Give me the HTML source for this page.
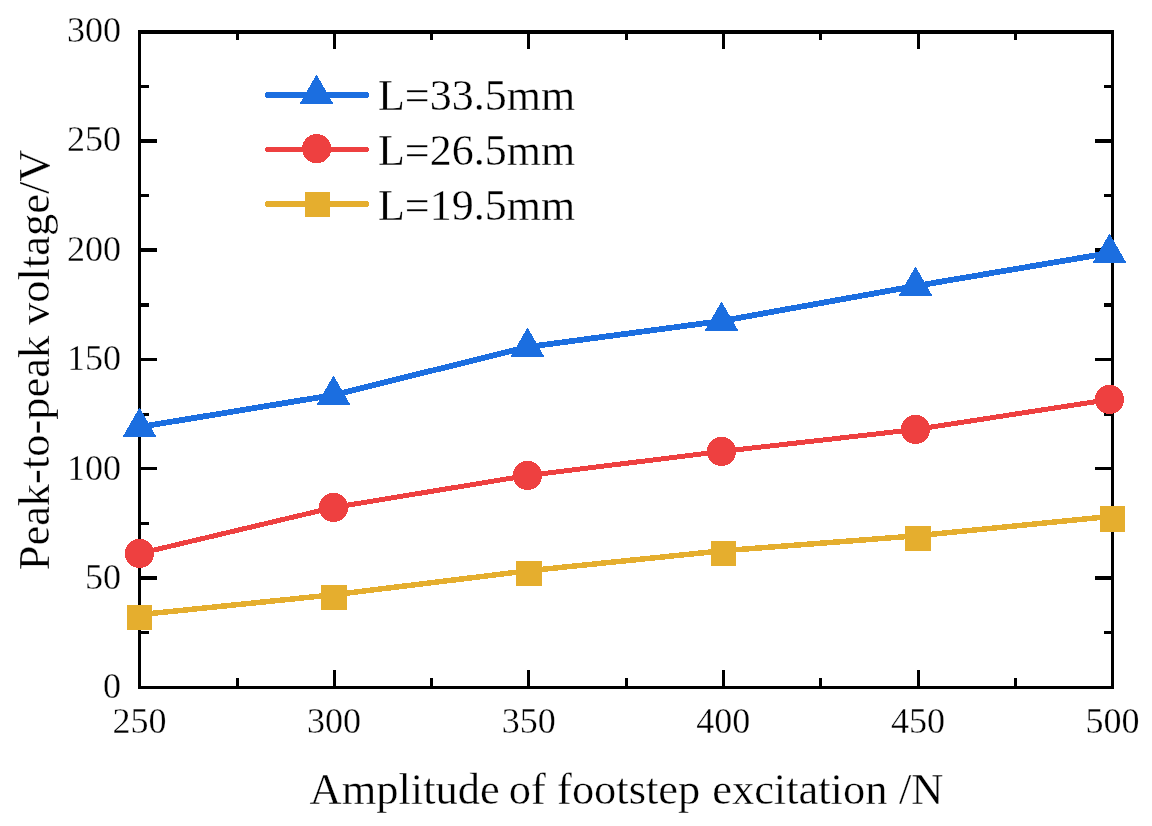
<!DOCTYPE html>
<html lang="en"><head><meta charset="utf-8"><title>chart</title>
<style>html,body{margin:0;padding:0;background:#fff}svg{display:block}text{-webkit-font-smoothing:antialiased}.t{filter:grayscale(1);stroke:#fff;stroke-width:0.3px}</style></head>
<body>
<svg width="1152" height="826" viewBox="0 0 1152 826">
<rect width="1152" height="826" fill="#fff"/>
<g fill="#000" shape-rendering="crispEdges">
<rect x="138" y="30" width="976" height="4"/>
<rect x="138" y="686" width="976" height="3"/>
<rect x="138" y="30" width="3" height="659"/>
<rect x="1111" y="30" width="3" height="659"/>
</g>
<g fill="#000" shape-rendering="crispEdges">
<rect x="141" y="85" width="8" height="3"/>
<rect x="1104" y="85" width="7" height="3"/>
<rect x="141" y="139" width="16" height="4"/>
<rect x="1095" y="139" width="16" height="4"/>
<rect x="141" y="194" width="8" height="3"/>
<rect x="1104" y="194" width="7" height="3"/>
<rect x="141" y="248" width="16" height="4"/>
<rect x="1095" y="248" width="16" height="4"/>
<rect x="141" y="303" width="8" height="4"/>
<rect x="1104" y="303" width="7" height="4"/>
<rect x="141" y="358" width="16" height="3"/>
<rect x="1095" y="358" width="16" height="3"/>
<rect x="141" y="413" width="8" height="3"/>
<rect x="1104" y="413" width="7" height="3"/>
<rect x="141" y="467" width="16" height="3"/>
<rect x="1095" y="467" width="16" height="3"/>
<rect x="141" y="522" width="8" height="3"/>
<rect x="1104" y="522" width="7" height="3"/>
<rect x="141" y="576" width="16" height="4"/>
<rect x="1095" y="576" width="16" height="4"/>
<rect x="141" y="631" width="8" height="3"/>
<rect x="1104" y="631" width="7" height="3"/>
<rect x="236" y="678" width="3" height="8"/>
<rect x="236" y="34" width="3" height="6"/>
<rect x="333" y="670" width="3" height="16"/>
<rect x="333" y="34" width="3" height="15"/>
<rect x="430" y="678" width="3" height="8"/>
<rect x="430" y="34" width="3" height="6"/>
<rect x="527" y="670" width="3" height="16"/>
<rect x="527" y="34" width="3" height="15"/>
<rect x="625" y="678" width="3" height="8"/>
<rect x="625" y="34" width="3" height="6"/>
<rect x="722" y="670" width="3" height="16"/>
<rect x="722" y="34" width="3" height="15"/>
<rect x="819" y="678" width="3" height="8"/>
<rect x="819" y="34" width="3" height="6"/>
<rect x="917" y="670" width="3" height="16"/>
<rect x="917" y="34" width="3" height="15"/>
<rect x="1014" y="678" width="3" height="8"/>
<rect x="1014" y="34" width="3" height="6"/>
</g>
<g class="t" font-family="'Liberation Serif', serif" font-size="36" fill="#000">
<text x="121" y="697.9" text-anchor="end">0</text>
<text x="121" y="588.9" text-anchor="end">50</text>
<text x="121" y="479.9" text-anchor="end">100</text>
<text x="121" y="369.8" text-anchor="end">150</text>
<text x="121" y="260.9" text-anchor="end">200</text>
<text x="121" y="151.0" text-anchor="end">250</text>
<text x="121" y="41.8" text-anchor="end">300</text>
<text x="139.50" y="733.3" text-anchor="middle">250</text>
<text x="334.10" y="733.3" text-anchor="middle">300</text>
<text x="528.70" y="733.3" text-anchor="middle">350</text>
<text x="723.30" y="733.3" text-anchor="middle">400</text>
<text x="917.90" y="733.3" text-anchor="middle">450</text>
<text x="1112.50" y="733.3" text-anchor="middle">500</text>
</g>
<g class="t" font-family="'Liberation Serif', serif" font-size="44.45" fill="#000">
<text x="309.6" y="803.9">Amplitude</text>
<text x="508.8" y="803.9">of</text>
<text x="557.1" y="803.9">footstep</text>
<text x="712.2" y="803.9">excitation</text>
<text x="899.0" y="803.9">/N</text>
<text transform="translate(49.0,570.3) rotate(-90)">Peak-to-peak</text>
<text transform="translate(49.0,324.9) rotate(-90)">voltage/V</text>
</g>
<g shape-rendering="crispEdges">
<polyline points="139.5,427 333.5,395 527.5,347 721.5,321 915.5,286 1109.5,253" fill="none" stroke="#1b6ee0" stroke-width="5.8" stroke-linejoin="round"/>
<polygon points="139.5,407.5 122.5,437 156.5,437" fill="#1b6ee0"/>
<polygon points="333.5,375.5 316.5,405 350.5,405" fill="#1b6ee0"/>
<polygon points="527.5,327.5 510.5,357 544.5,357" fill="#1b6ee0"/>
<polygon points="721.5,301.5 704.5,331 738.5,331" fill="#1b6ee0"/>
<polygon points="915.5,266.5 898.5,296 932.5,296" fill="#1b6ee0"/>
<polygon points="1109.5,233.5 1092.5,263 1126.5,263" fill="#1b6ee0"/>
<polyline points="139.5,553.5 333.5,507.5 527.5,475.5 721.5,451.5 915.5,429.5 1109.5,399.5" fill="none" stroke="#ee4040" stroke-width="5" stroke-linejoin="round"/>
<circle cx="139.5" cy="553.5" r="14.6" fill="#ee4040"/>
<circle cx="333.5" cy="507.5" r="14.6" fill="#ee4040"/>
<circle cx="527.5" cy="475.5" r="14.6" fill="#ee4040"/>
<circle cx="721.5" cy="451.5" r="14.6" fill="#ee4040"/>
<circle cx="915.5" cy="429.5" r="14.6" fill="#ee4040"/>
<circle cx="1109.5" cy="399.5" r="14.6" fill="#ee4040"/>
<polyline points="139.5,614.7 334.0,594.7 529.0,570.7 723.5,550.7 918.0,535.7 1112.5,516.2" fill="none" stroke="#e5ae2e" stroke-width="5.5" stroke-linejoin="round"/>
<rect x="127" y="605" width="25" height="25" fill="#e5ae2e" shape-rendering="crispEdges"/>
<rect x="321" y="585" width="26" height="25" fill="#e5ae2e" shape-rendering="crispEdges"/>
<rect x="516" y="561" width="26" height="25" fill="#e5ae2e" shape-rendering="crispEdges"/>
<rect x="711" y="541" width="25" height="25" fill="#e5ae2e" shape-rendering="crispEdges"/>
<rect x="905" y="526" width="26" height="25" fill="#e5ae2e" shape-rendering="crispEdges"/>
<rect x="1100" y="506" width="25" height="26" fill="#e5ae2e" shape-rendering="crispEdges"/>
<line x1="268" y1="95" x2="366" y2="95" stroke="#1b6ee0" stroke-width="6" stroke-linecap="round"/>
<polygon points="316.5,74.5 299.5,104 333.5,104" fill="#1b6ee0"/>
<line x1="267.5" y1="149.5" x2="366.5" y2="149.5" stroke="#ee4040" stroke-width="5" stroke-linecap="round"/>
<circle cx="316.7" cy="148.7" r="14.6" fill="#ee4040"/>
<line x1="268" y1="204" x2="366" y2="204" stroke="#e5ae2e" stroke-width="6" stroke-linecap="round"/>
<rect x="305" y="192" width="25" height="25" fill="#e5ae2e" shape-rendering="crispEdges"/>
</g>
<g class="t" font-family="'Liberation Serif', serif" font-size="44" fill="#000">
<text id="l1" transform="translate(378.0,110.1) scale(1,1.025)">L=33.5mm</text>
<text id="l2" transform="translate(378.0,165.1) scale(1,1.025)">L=26.5mm</text>
<text id="l3" transform="translate(378.0,220.1) scale(1,1.025)">L=19.5mm</text>
</g>
</svg>
</body></html>
